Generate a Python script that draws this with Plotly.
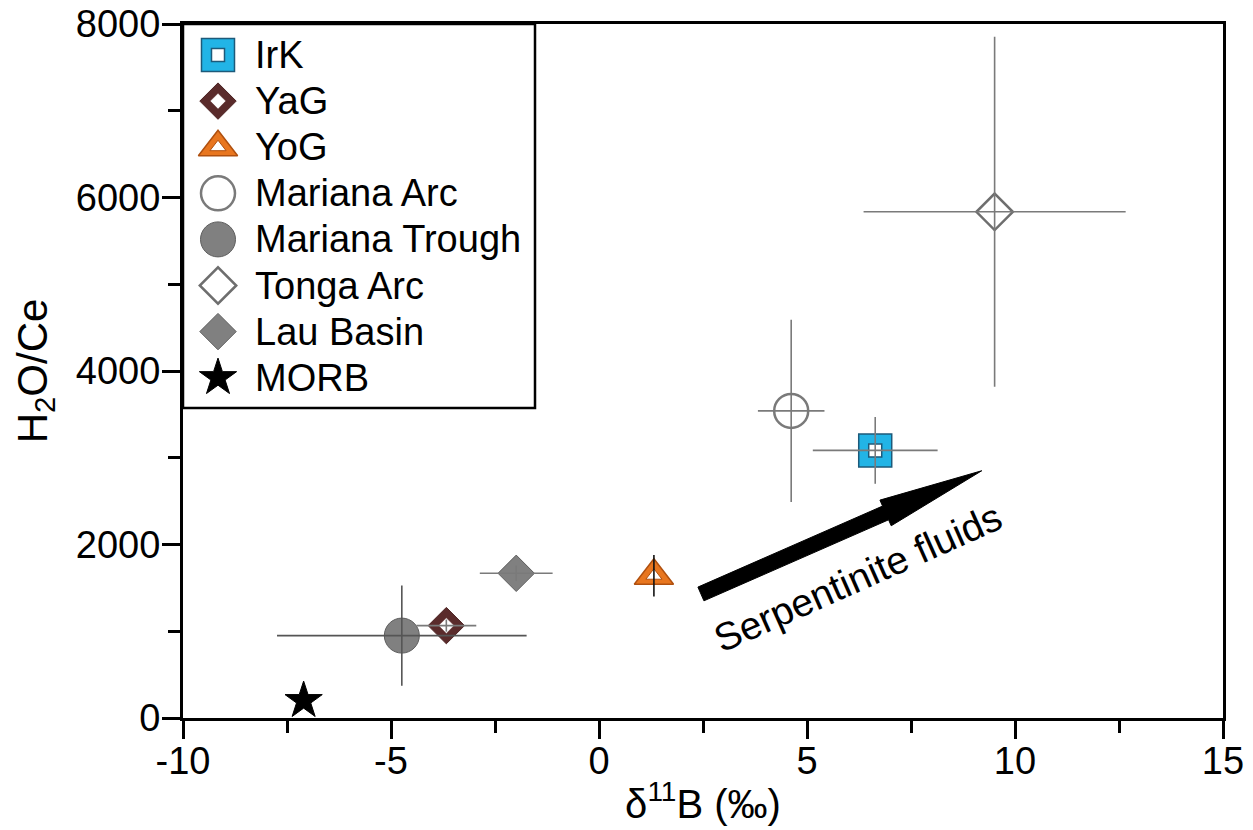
import math
import plotly.graph_objects as go

# ---------------- data ----------------
SERIES = ["IrK", "YaG", "YoG", "Mariana Arc", "Mariana Trough", "Tonga Arc", "Lau Basin", "MORB"]
D11B = [6.64, -3.67, 1.32, 4.62, -4.74, 9.51, -1.99, -7.1]
H2O_CE = [3085, 1065, 1640, 3540, 950, 5835, 1668, 200]
D11B_ERR = [1.5, 0.72, 0.0, 0.8, 3.0, 3.15, 0.875, 0.0]
H2O_CE_ERR = [385, 70, 240, 1050, 577, 2017, 90, 0]

X_TICKS = [-10, -5, 0, 5, 10, 15]
X_TICK_TEXT = ["-10", "-5", "0", "5", "10", "15"]
Y_TICKS = [0, 2000, 4000, 6000, 8000]
Y_TICK_TEXT = ["0", "2000", "4000", "6000", "8000"]

ARROW_FROM = (2.45, 1430)
ARROW_TO = (9.2, 2850)
ARROW_LABEL = "Serpentinite fluids"
ARROW_LABEL_POS = (6.23, 1614)

# ---------------- geometry / style ----------------
W, H = 1253, 830
L, R, T, B = 183, 30, 24, 112
PW, PH = W - L - R, H - T - B
X_RANGE = [-10, 15]
Y_RANGE = [0, 8000]
FONT = "Liberation Sans, Arial, Helvetica, sans-serif"

STYLES = {
    "IrK": [("square", 33, "#22b4e6", "#1d5a7a", 1.5), ("square", 13, "white", "#1d5a7a", 1.5)],
    "YaG": [("diamond", 28, "#5a2b2b", "#4a2020", 1), ("diamond", 12, "white", "#5a2b2b", 0.5)],
    "YoG": [("triangle-up", 34, "#e8761f", "#b0500f", 1.5), ("triangle-up", 14, "white", "#b0500f", 1)],
    "Mariana Arc": [("circle", 34, "rgba(255,255,255,0)", "#7a7a7a", 2.5)],
    "Mariana Trough": [("circle", 35, "#808080", "#5e5e5e", 1)],
    "Tonga Arc": [("diamond", 28, "rgba(255,255,255,0)", "#6e6e6e", 2.5)],
    "Lau Basin": [("diamond", 28, "#808080", "#5e5e5e", 1)],
    "MORB": [("star", 28, "black", "black", 1)],
}
ERR_COLORS = {"YoG": "#111111", "Mariana Trough": "#555555"}


def to_px(x, y):
    px = L + (x - X_RANGE[0]) / (X_RANGE[1] - X_RANGE[0]) * PW
    py = T + (Y_RANGE[1] - y) / (Y_RANGE[1] - Y_RANGE[0]) * PH
    return px, py


fig = go.Figure()

# data markers
for i, name in enumerate(SERIES):
    for sym, size, fill, lc, lw in STYLES[name]:
        fig.add_trace(go.Scatter(
            x=[D11B[i]], y=[H2O_CE[i]], mode="markers", name=name,
            marker=dict(symbol=sym, size=size, color=fill, line=dict(color=lc, width=lw)),
            showlegend=False, hoverinfo="skip", cliponaxis=False))

# error bars drawn on top of markers
for i, name in enumerate(SERIES):
    if D11B_ERR[i] == 0 and H2O_CE_ERR[i] == 0:
        continue
    col = ERR_COLORS.get(name, "#7a7a7a")
    fig.add_trace(go.Scatter(
        x=[D11B[i]], y=[H2O_CE[i]], mode="markers",
        marker=dict(size=1, opacity=0),
        error_x=dict(type="data", array=[D11B_ERR[i]], color=col, thickness=1.6, width=0,
                     visible=D11B_ERR[i] > 0),
        error_y=dict(type="data", array=[H2O_CE_ERR[i]], color=col, thickness=1.6, width=0,
                     visible=H2O_CE_ERR[i] > 0),
        showlegend=False, hoverinfo="skip"))

# ---------- overlay pixel axes for arrow and legend ----------
x0, y0 = to_px(*ARROW_FROM)
x1, y1 = to_px(*ARROW_TO)
dx, dy = x1 - x0, y1 - y0
ln = math.hypot(dx, dy)
ux, uy = dx / ln, dy / ln
nx, ny = -uy, ux
sw, hw, hl = 7.5, 14, 105
bx, by = x1 - ux * hl, y1 - uy * hl
pts = [
    (x0 + nx * sw, y0 + ny * sw),
    (bx + nx * sw, by + ny * sw),
    (bx + nx * hw, by + ny * hw),
    (x1, y1),
    (bx - nx * hw, by - ny * hw),
    (bx - nx * sw, by - ny * sw),
    (x0 - nx * sw, y0 - ny * sw),
]
path = "M " + " L ".join(f"{px:.2f},{py:.2f}" for px, py in pts) + " Z"

shapes = [
    dict(type="path", path=path, xref="x2", yref="y2", fillcolor="black",
         line=dict(color="black", width=1), layer="above"),
    dict(type="rect", xref="x2", yref="y2", x0=L, x1=535, y0=T, y1=408,
         fillcolor="white", line=dict(color="black", width=2.5), layer="below"),
]

annotations = []
LEG_X_ICON, LEG_X_TEXT, LEG_Y0, LEG_DY = 218, 253, 55, 46.1
for i, name in enumerate(SERIES):
    yy = LEG_Y0 + i * LEG_DY
    for sym, size, fill, lc, lw in STYLES[name]:
        fig.add_trace(go.Scatter(
            x=[LEG_X_ICON], y=[yy], xaxis="x2", yaxis="y2", mode="markers",
            marker=dict(symbol=sym, size=size, color=fill, line=dict(color=lc, width=lw)),
            showlegend=False, hoverinfo="skip", cliponaxis=False))
    annotations.append(dict(
        x=LEG_X_TEXT, y=yy, xref="x2", yref="y2", text=name, showarrow=False,
        xanchor="left", yanchor="middle", font=dict(size=38, color="black", family=FONT)))

annotations.append(dict(
    x=ARROW_LABEL_POS[0], y=ARROW_LABEL_POS[1], xref="x", yref="y", text=ARROW_LABEL,
    showarrow=False, textangle=-24, xanchor="center", yanchor="middle",
    font=dict(size=39, color="black", family=FONT)))

axis_common = dict(
    showline=True, linecolor="black", linewidth=3, mirror=True,
    ticks="outside", ticklen=18, tickwidth=2.5, tickcolor="black",
    showgrid=False, zeroline=False, tickfont=dict(size=38, color="black", family=FONT),
    automargin=False, fixedrange=True,
)

fig.update_layout(
    width=W, height=H,
    margin=dict(l=L, r=R, t=T, b=B, pad=0),
    paper_bgcolor="white", plot_bgcolor="white",
    showlegend=False, hovermode=False,
    font=dict(family=FONT, color="black"),
    xaxis=dict(range=X_RANGE, tickmode="array", tickvals=X_TICKS, ticktext=X_TICK_TEXT,
               ticklabelstandoff=-11,
               minor=dict(ticks="outside", ticklen=12, tickwidth=2.5, tickcolor="black",
                          tick0=-10, dtick=2.5),
               title=dict(text="δ<sup>11</sup>B (‰)", font=dict(size=40, family=FONT), standoff=10),
               **axis_common),
    yaxis=dict(range=Y_RANGE, tickmode="array", tickvals=Y_TICKS, ticktext=Y_TICK_TEXT,
               ticklabelstandoff=-6,
               minor=dict(ticks="outside", ticklen=12, tickwidth=2.5, tickcolor="black",
                          tick0=0, dtick=1000),
               title=dict(text="H<sub>2</sub>O/Ce", font=dict(size=42, family=FONT), standoff=16),
               **axis_common),
    xaxis2=dict(range=[L, W - R], overlaying="x", anchor="y2", visible=False, fixedrange=True),
    yaxis2=dict(range=[H - B, T], overlaying="y", anchor="x2", visible=False, fixedrange=True),
    shapes=shapes,
    annotations=annotations,
)

fig.write_html("out.html", config={"displayModeBar": False},
               post_script="document.body.style.margin='0';document.body.style.overflow='hidden';")
